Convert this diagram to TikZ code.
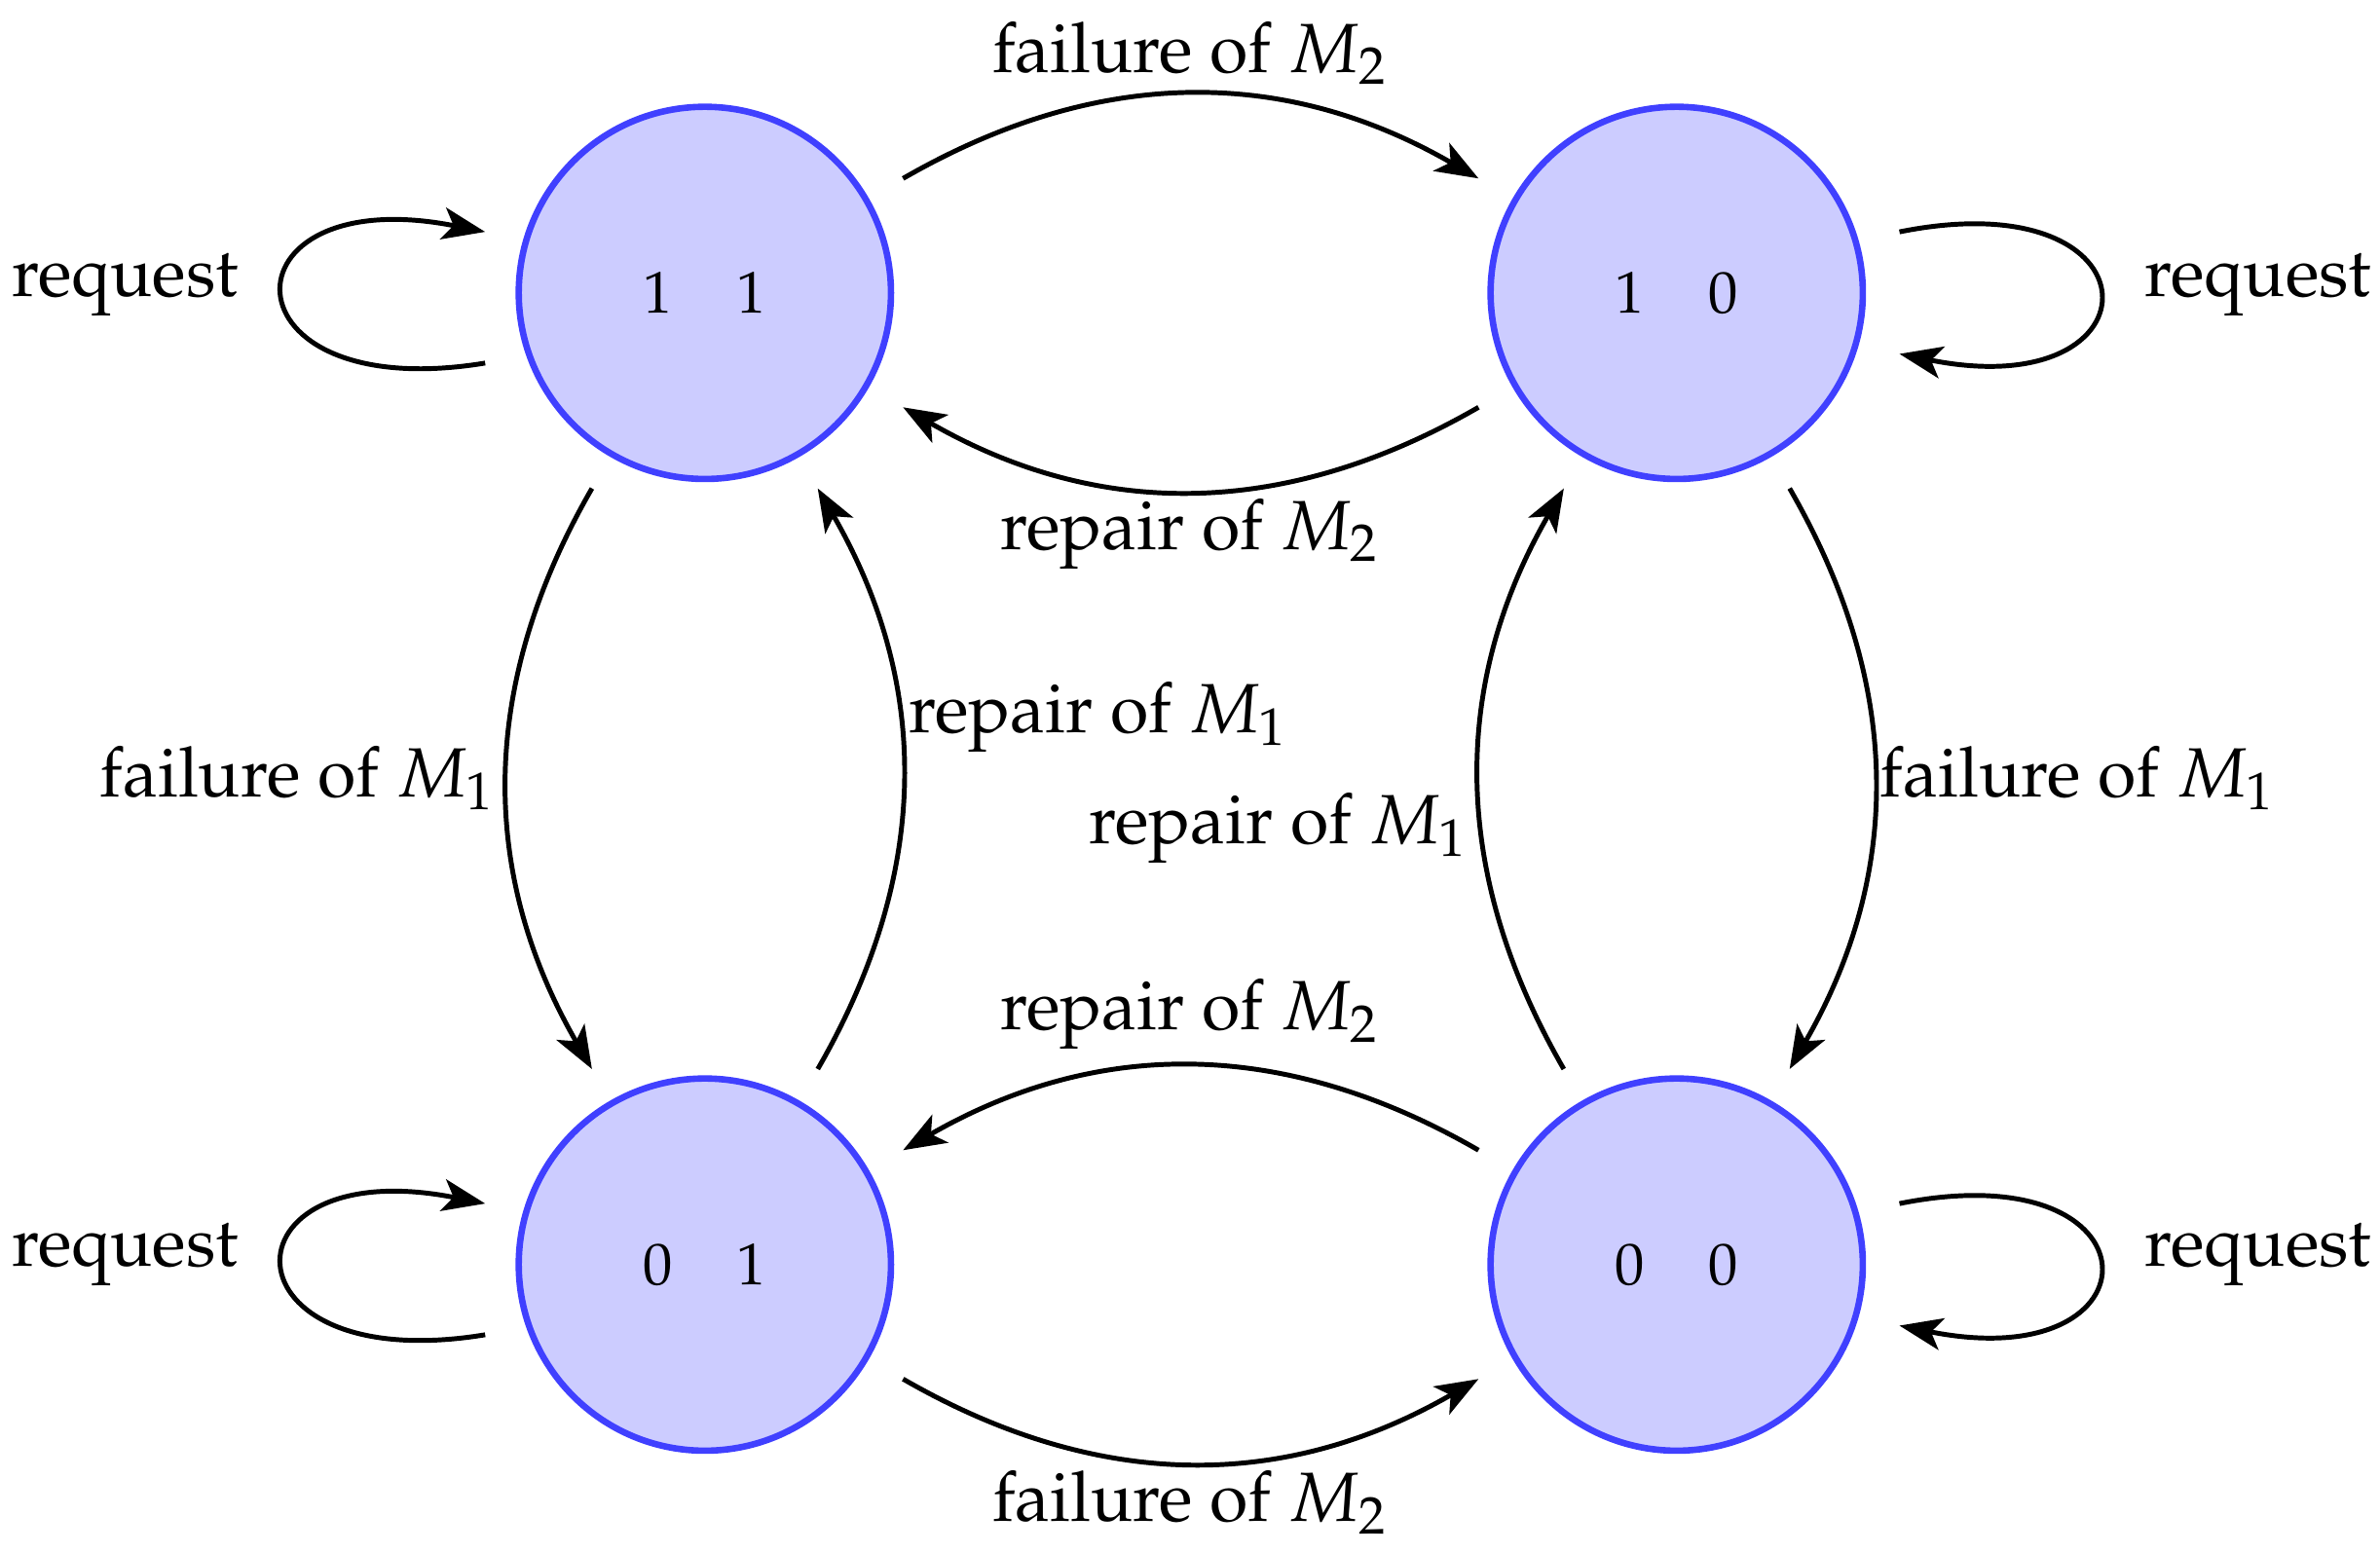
\documentclass[tikz,border=0pt]{standalone}
\usepackage[T1]{fontenc}
\usepackage{mathpazo}
\usetikzlibrary{arrows.meta}
\begin{document}
\begin{tikzpicture}[
  st/.style={circle,minimum size=2.44cm,inner sep=0pt,fill=blue!20,draw=blue!75,line width=1.2pt,font=\fontsize{11}{13}\selectfont},
  ar/.style={-{Stealth[length=8pt,width=6pt,inset=2pt]},line width=0.9pt},
  lb/.style={font=\fontsize{13}{16}\selectfont}]
\useasboundingbox (0,0) rectangle (15.6,10.18);
\node[st] (A) at (4.62,8.26) {1\hspace{0.42cm}1};
\node[st] (B) at (10.99,8.26) {1\hspace{0.42cm}0};
\node[st] (C) at (4.62,1.89) {0\hspace{0.42cm}1};
\node[st] (D) at (10.99,1.89) {0\hspace{0.42cm}0};
% top
\draw[ar] ([shift={(30:1.5)}]A.center) to[bend left=30] ([shift={(150:1.5)}]B.center);
\draw[ar] ([shift={(210:1.5)}]B.center) to[bend left=30] ([shift={(-30:1.5)}]A.center);
% bottom
\draw[ar] ([shift={(150:1.5)}]D.center) to[bend right=30] ([shift={(30:1.5)}]C.center);
\draw[ar] ([shift={(-30:1.5)}]C.center) to[bend right=30] ([shift={(210:1.5)}]D.center);
% left
\draw[ar] ([shift={(-120:1.48)}]A.center) to[bend right=30] ([shift={(120:1.48)}]C.center);
\draw[ar] ([shift={(60:1.48)}]C.center) to[bend right=30] ([shift={(-60:1.48)}]A.center);
% right
\draw[ar] ([shift={(120:1.48)}]D.center) to[bend left=30] ([shift={(-120:1.48)}]B.center);
\draw[ar] ([shift={(-60:1.48)}]B.center) to[bend left=30] ([shift={(60:1.48)}]D.center);
% loops
\draw[ar] ([shift={(-1.44,-0.46)}]A.center) .. controls ([shift={(-3.2,-0.75)}]A.center) and ([shift={(-3.2,0.75)}]A.center) .. ([shift={(-1.44,0.40)}]A.center);
\draw[ar] ([shift={(-1.44,-0.46)}]C.center) .. controls ([shift={(-3.2,-0.75)}]C.center) and ([shift={(-3.2,0.75)}]C.center) .. ([shift={(-1.44,0.40)}]C.center);
\draw[ar] ([shift={(1.46,0.40)}]B.center) .. controls ([shift={(3.2,0.75)}]B.center) and ([shift={(3.2,-0.75)}]B.center) .. ([shift={(1.46,-0.40)}]B.center);
\draw[ar] ([shift={(1.46,0.40)}]D.center) .. controls ([shift={(3.2,0.75)}]D.center) and ([shift={(3.2,-0.75)}]D.center) .. ([shift={(1.46,-0.40)}]D.center);
% labels
\node[lb] (l1) at (7.80,9.83) {failure of $M_2$};
\node[lb] (l2) at (7.80,6.68) {repair of $M_2$};
\node[lb] (l3) at (7.80,3.53) {repair of $M_2$};
\node[lb] (l4) at (7.80,0.33) {failure of $M_2$};
\node[lb] (l5) at (1.95,5.08) {failure of $M_1$};
\node[lb] (l6) at (7.20,5.48) {repair of $M_1$};
\node[lb] (l7) at (8.38,4.75) {repair of $M_1$};
\node[lb] (l8) at (13.62,5.08) {failure of $M_1$};
\node[lb] (r1) at (0.82,8.31) {request};
\node[lb] (r2) at (14.80,8.31) {request};
\node[lb] (r3) at (0.82,1.95) {request};
\node[lb] (r4) at (14.80,1.95) {request};
\end{tikzpicture}
\end{document}
